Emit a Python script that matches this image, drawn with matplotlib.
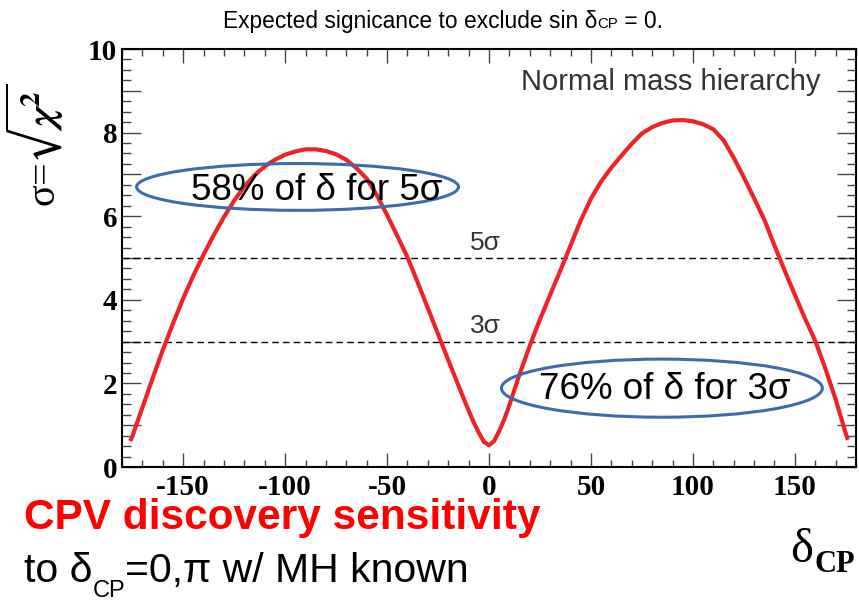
import matplotlib
matplotlib.use('Agg')
import matplotlib.pyplot as plt
from matplotlib.ticker import MultipleLocator, FuncFormatter
from matplotlib.patches import Ellipse

# ---------------- data ----------------
delta_cp = [-176, -175, -170, -165, -160, -155, -150, -145, -140, -135, -130, -125,
            -120, -115, -110, -105, -100, -95, -90, -85, -80, -75, -70, -65,
            -60, -55, -50, -45, -40, -35, -30, -25, -20, -15, -10, -7.5, -5, -2.5,
            0, 2.5, 5, 7.5, 10, 15, 20, 25, 30, 35, 40, 45, 50, 55,
            60, 65, 70, 75, 80, 85, 90, 95, 100, 105, 110, 115,
            120, 125, 130, 135, 140, 145, 150, 155, 160, 165, 170, 175, 176]
sigma = [0.62, 0.72, 1.42, 2.12, 2.80, 3.43, 4.03, 4.58, 5.08, 5.55, 5.98, 6.37,
         6.71, 6.98, 7.19, 7.35, 7.47, 7.55, 7.60, 7.60, 7.56, 7.48, 7.35, 7.15,
         6.90, 6.50, 6.03, 5.53, 5.02, 4.42, 3.80, 3.18, 2.56, 1.95, 1.35, 1.07, 0.82, 0.60,
         0.52, 0.62, 0.86, 1.14, 1.48, 2.22, 2.90, 3.53, 4.12, 4.70, 5.30, 5.90, 6.42, 6.83,
         7.16, 7.45, 7.73, 7.98, 8.13, 8.23, 8.29, 8.30, 8.27, 8.20, 8.08, 7.82,
         7.40, 6.93, 6.43, 5.92, 5.30, 4.70, 4.12, 3.55, 3.02, 2.35, 1.62, 0.80, 0.65]
sigma_levels = [3, 5]
level_labels = ['3\u03c3', '5\u03c3']

title_parts = ['Expected signicance to exclude sin \u03b4', 'CP', ' = 0.']
annot_texts = ['58% of \u03b4 for 5\u03c3', '76% of \u03b4 for 3\u03c3']
hierarchy_label = 'Normal mass hierarchy'

RED = '#ec2327'
BLUE = '#3d6bab'

W, H = 859, 602
plt.rcParams['font.family'] = 'Liberation Serif'
plt.rcParams['font.weight'] = 'bold'
plt.rcParams['axes.unicode_minus'] = False
plt.rcParams['mathtext.fontset'] = 'stix'

fig = plt.figure(figsize=(W / 100, H / 100), dpi=100)
ax = fig.add_axes([122 / W, (H - 467) / H, (856 - 122) / W, (467 - 49) / H])

ax.plot(delta_cp, sigma, color=RED, lw=3.0, zorder=3, solid_capstyle='butt',
        solid_joinstyle='round')
for lvl, lab in zip(sigma_levels, level_labels):
    ax.axhline(lvl, color='black', lw=1.0, ls=(0, (4.8, 2.9)), zorder=2)
    ax.text(-9.5, lvl + 0.2, lab, family='Liberation Sans', weight='normal',
            fontsize=19, color='#333333', ha='left', va='baseline')

ax.set_xlim(-180, 180)
ax.set_ylim(0, 10)

for sp in ax.spines.values():
    sp.set_linewidth(1.5)

ax.xaxis.set_major_locator(MultipleLocator(50))
ax.xaxis.set_minor_locator(MultipleLocator(10))
ax.yaxis.set_major_locator(MultipleLocator(1))
ax.yaxis.set_minor_locator(MultipleLocator(0.25))
ax.yaxis.set_major_formatter(FuncFormatter(
    lambda v, p: f'{int(round(v))}' if int(round(v)) % 2 == 0 else ''))
ax.xaxis.set_major_formatter(FuncFormatter(lambda v, p: f'{int(round(v))}'))

ax.tick_params(which='both', direction='in', top=True, right=True,
               color='#444444', width=1.0, labelsize=21)
ax.tick_params(axis='x', which='major', length=10, pad=5)
ax.tick_params(axis='x', which='minor', length=5)
ax.tick_params(axis='y', which='major', length=13.7, pad=3.5)
ax.tick_params(axis='y', which='minor', length=6.5)

# y label
ax.text(-0.118, 0.77, '\u03c3=$\\sqrt{\\chi^2}$', transform=ax.transAxes,
        rotation=90, ha='center', va='center', fontsize=29,
        family='Liberation Serif', weight='normal')

ax.text(0.951, 0.902, hierarchy_label, transform=ax.transAxes, ha='right',
        va='baseline', family='Liberation Sans', weight='normal', fontsize=21,
        color='#333333')

# ellipses and their texts
ax.add_patch(Ellipse((-93.9, 6.70), 157.9, 1.12, fill=False, ec=BLUE, lw=2.2,
                     zorder=4, clip_on=False))
ax.add_patch(Ellipse((84.8, 1.886), 157.4, 1.39, fill=False, ec=BLUE, lw=2.2,
                     zorder=4, clip_on=False))
ax.text(-84.5, 6.39, annot_texts[0], family='Liberation Sans', weight='normal',
        fontsize=26.5, ha='center', va='baseline', zorder=5)
ax.text(86.3, 1.63, annot_texts[1], family='Liberation Sans', weight='normal',
        fontsize=26.5, ha='center', va='baseline', zorder=5)

# x axis label delta_CP
fig.text(790 / W, (H - 562) / H, '\u03b4', family='Liberation Serif',
         weight='normal', fontsize=35, ha='left', va='baseline')
fig.text(814 / W, (H - 572) / H, 'CP', family='Liberation Serif',
         weight='bold', fontsize=22, ha='left', va='baseline')

renderer = fig.canvas.get_renderer()


def rich(x_px, base_px, pieces, center=False):
    texts = []
    cur = x_px
    for s, kw, dy in pieces:
        t = fig.text(cur / W, (H - (base_px + dy)) / H, s, ha='left',
                     va='baseline', **kw)
        bb = t.get_window_extent(renderer=renderer)
        texts.append(t)
        cur += bb.width
    if center:
        shift = (cur - x_px) / 2
        for t in texts:
            px, py = t.get_position()
            t.set_position((px - shift / W, py))
    return texts


sans = dict(family='Liberation Sans', weight='normal')
rich(442.5, 28, [(title_parts[0], dict(fontsize=16.4, **sans), 0),
                 (title_parts[1], dict(fontsize=10.8, **sans), 0),
                 (title_parts[2], dict(fontsize=16.4, **sans), 0)], center=True)

fig.text(24 / W, (H - 529) / H, 'CPV discovery sensitivity',
         family='Liberation Sans', weight='bold', fontsize=30.5, color='#ff0000',
         ha='left', va='baseline')

rich(24, 582, [('to \u03b4', dict(fontsize=29.5, **sans), 0),
               ('CP', dict(fontsize=17, **sans), 15),
               ('=0,\u03c0 w/ MH known', dict(fontsize=29.5, **sans), 0)])

fig.savefig('out.png', dpi=100)
